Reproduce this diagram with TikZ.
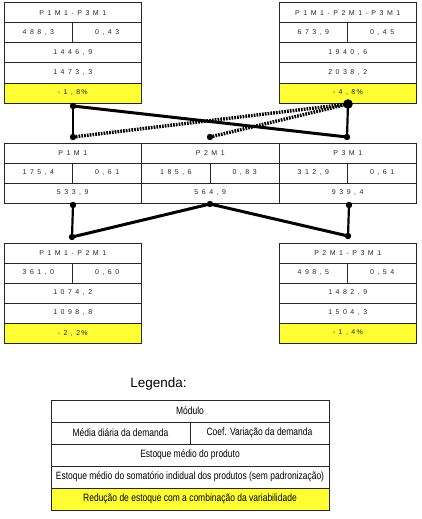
\documentclass[tikz,border=0pt]{standalone}
\usepackage{fontspec}
\setmainfont{Liberation Sans}
\newfontfamily\boxfont[LetterSpace=50]{Liberation Sans}
\newfontfamily\legfont[FakeStretch=0.8]{Liberation Sans}
\usetikzlibrary{positioning, calc}
\definecolor{amarelo}{RGB}{255,255,51}

\tikzset{
	cel/.style={draw=black!85, line width=1pt, inner sep=0pt, outer sep=0pt, minimum height=20pt, anchor=north west, text=black!85, font={\boxfont\fontsize{7}{8}\selectfont}},
	cheia/.style={cel, minimum width=137.5pt},
	meia/.style={cel, minimum width=68.75pt},
	leg/.style={draw=black!85, line width=1pt, inner sep=0pt, outer sep=0pt, minimum height=22pt, anchor=north west, font={\legfont\fontsize{10.6}{11}\selectfont}},
	ligacao/.style={line width=3pt},
	vertical/.style={line width=2.2pt},
	pontilhado/.style={line width=3.4pt, dash pattern=on 1.7pt off 1.1pt},
	ponto/.style={fill=black}
}

\begin{document}
\begin{tikzpicture}[x=1pt, y=-1pt]
	\useasboundingbox (0,0) rectangle (421,519);
	
	% modulo P1M1-P3M1
	\node[cheia] (a1) at (4,3) {P1M1-P3M1};
	\node[meia] (a2) at (a1.south west) {488,3};
	\node[meia] (a3) at (a2.north east) {0,43};
	\node[cheia] (a4) at (a2.south west) {1446,9};
	\node[cheia] (a5) at (a4.south west) {1473,3};
	\node[cheia, fill=amarelo] (a6) at (a5.south west) {-1,8\,\%};
	
	% modulo P1M1-P2M1-P3M1
	\node[cheia] (b1) at (279,3) {P1M1-P2M1-P3M1};
	\node[meia] (b2) at (b1.south west) {673,9};
	\node[meia] (b3) at (b2.north east) {0,45};
	\node[cheia] (b4) at (b2.south west) {1940,6};
	\node[cheia] (b5) at (b4.south west) {2038,2};
	\node[cheia, fill=amarelo] (b6) at (b5.south west) {-4,8\,\%};
	
	% modulos simples
	\node[cheia] (p1) at (4,143) {P1M1};
	\node[meia] (p1m) at (p1.south west) {175,4};
	\node[meia] (p1c) at (p1m.north east) {0,61};
	\node[cheia] (p1e) at (p1m.south west) {533,9};
	
	\node[cheia] (p2) at (p1.north east) {P2M1};
	\node[meia] (p2m) at (p2.south west) {185,6};
	\node[meia] (p2c) at (p2m.north east) {0,83};
	\node[cheia] (p2e) at (p2m.south west) {564,9};
	
	\node[cheia] (p3) at (p2.north east) {P3M1};
	\node[meia] (p3m) at (p3.south west) {312,9};
	\node[meia] (p3c) at (p3m.north east) {0,61};
	\node[cheia] (p3e) at (p3m.south west) {939,4};
	
	% modulo P1M1-P2M1
	\node[cheia] (c1) at (4,243) {P1M1-P2M1};
	\node[meia] (c2) at (c1.south west) {361,0};
	\node[meia] (c3) at (c2.north east) {0,60};
	\node[cheia] (c4) at (c2.south west) {1074,2};
	\node[cheia] (c5) at (c4.south west) {1098,8};
	\node[cheia, fill=amarelo] (c6) at (c5.south west) {-2,2\,\%};
	
	% modulo P2M1-P3M1
	\node[cheia] (d1) at (279,243) {P2M1-P3M1};
	\node[meia] (d2) at (d1.south west) {498,5};
	\node[meia] (d3) at (d2.north east) {0,54};
	\node[cheia] (d4) at (d2.south west) {1482,9};
	\node[cheia] (d5) at (d4.south west) {1504,3};
	\node[cheia, fill=amarelo] (d6) at (d5.south west) {-1,4\,\%};
	
	% pontos de ligacao
	\coordinate (tA) at (73,106);
	\coordinate (tB) at (348,104);
	\coordinate (mA) at (73,137);
	\coordinate (mB) at (210,137);
	\coordinate (mC) at (347,137);
	\coordinate (bA) at (73,205);
	\coordinate (bB) at (210,204);
	\coordinate (bC) at (349,205);
	\coordinate (lA) at (72,237);
	\coordinate (lC) at (348,236);
	
	\draw[pontilhado] (mA) -- (tB);
	\draw[pontilhado] (mB) -- (tB);
	\draw[ligacao] (tA) -- (mC);
	\draw[vertical] (tA) -- (mA);
	\draw[vertical] (tB) -- (mC);
	
	\draw[vertical] (bA) -- (lA);
	\draw[vertical] (bC) -- (lC);
	\draw[ligacao] (lA) -- (bB) -- (lC);
	
	\foreach \p in {tA, mA, mB, mC, bA, bB, bC, lA, lC}
		\fill[ponto] (\p) circle (3.2pt);
	\fill[ponto] (tB) circle (4.8pt);
	
	% legenda
	\node[anchor=base, font=\fontsize{13.5}{15}\selectfont] (titleg) at (158.5,387) {Legenda:};
	\node[leg, minimum width=278pt] (l1) at (51,400) {Módulo};
	\node[leg, minimum width=139pt] (l2) at (l1.south west) {Média diária da demanda};
	\node[leg, minimum width=139pt] (l3) at (l2.north east) {Coef. Variação da demanda};
	\node[leg, minimum width=278pt] (l4) at (l2.south west) {Estoque médio do produto};
	\node[leg, minimum width=278pt] (l5) at (l4.south west) {Estoque médio do somatório indidual dos produtos (sem padronização)};
	\node[leg, minimum width=278pt, fill=amarelo] (l6) at (l5.south west) {Redução de estoque com a combinação da variabilidade};
\end{tikzpicture}
\end{document}
